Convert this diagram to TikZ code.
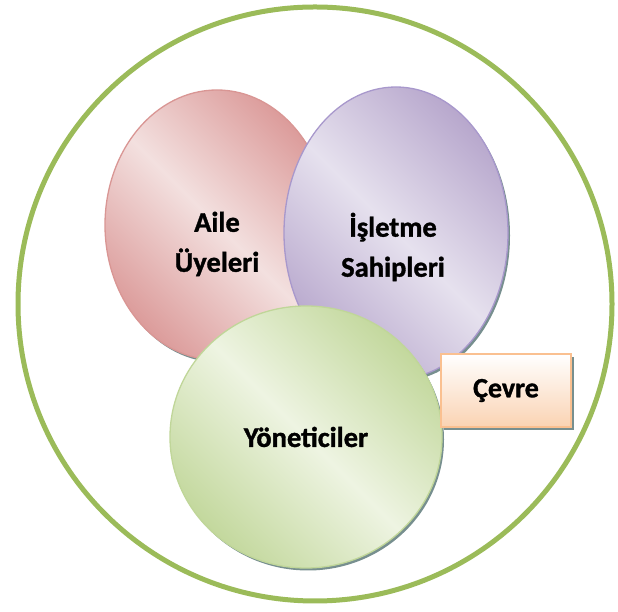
\documentclass[tikz,border=0pt]{standalone}
\usepackage{fontspec}
\setmainfont{Carlito}[BoldFont={Carlito Bold}, BoldFeatures={FakeBold=1.2}]
\usepackage{tikz}
\usetikzlibrary{
    shapes.geometric,
    positioning,
    shadows
}
\definecolor{envgreen}{HTML}{9BBB59}
\definecolor{roseline}{HTML}{D99694}
\definecolor{rosedark}{HTML}{DC9C9B}
\definecolor{roselight}{HTML}{F3E0DF}
\definecolor{lilacline}{HTML}{A898CC}
\definecolor{lilacdark}{HTML}{B8A8CD}
\definecolor{lilaclight}{HTML}{E6E1EE}
\definecolor{leafline}{HTML}{C0D699}
\definecolor{leafdark}{HTML}{C3D89D}
\definecolor{leaflight}{HTML}{EEF4E2}
\definecolor{peachline}{HTML}{FAC090}
\definecolor{peachfill}{HTML}{FAD3B3}
\definecolor{shadowteal}{HTML}{5F7B7B}

\begin{document}
\begin{tikzpicture}[
            x=1pt, y=1pt,
            envir/.style={draw=envgreen, line width=5pt, circle, inner sep=0pt,
                          minimum size=594pt},
            blob/.style={ellipse, inner sep=0pt, line width=1.3pt,
                         drop shadow={shadow xshift=2pt, shadow yshift=-2.5pt,
                                      fill=shadowteal, opacity=0.85}},
            aile/.style={blob, draw=roseline, top color=rosedark,
                         bottom color=rosedark, middle color=roselight,
                         shading angle=-45},
            isletme/.style={blob, draw=lilacline, top color=lilacdark,
                            bottom color=lilacdark, middle color=lilaclight,
                            shading angle=-45},
            yonetim/.style={blob, draw=leafline, top color=leafdark,
                            bottom color=leafdark, middle color=leaflight,
                            shading angle=-45},
            envbox/.style={draw=peachline, line width=1.3pt,
                           top color=white, bottom color=peachfill,
                           minimum width=130pt, minimum height=73pt, inner sep=0pt,
                           drop shadow={shadow xshift=3pt, shadow yshift=-3pt,
                                        fill=shadowteal, opacity=0.85}},
            txt/.style={font=\bfseries\fontsize{28.5}{40}\selectfont, align=center}
        ]
            \useasboundingbox (0,0) rectangle (618,612);

            \node[envir] (cevreyuvar) at (315,308) {};

            \node[aile, minimum width=224pt, minimum height=270pt] (aile) at (217,387) {};
            \node[isletme, minimum width=224pt, minimum height=292pt] (isletme) at (396,379) {};
            \node[yonetim, minimum width=272pt, minimum height=262pt] (yonetici) at (306,175) {};
            \node[envbox] (cevre) at (506,221.5) {};

            \node[txt] (ailetxt) at ([shift={(0,-19)}]aile.center) {Aile\\Üyeleri};
            \node[txt] (isletmetxt) at ([shift={(-3,-14)}]isletme.center) {İşletme\\Sahipleri};
            \node[txt] (yonetictxt) at (yonetici.center) {Yöneticiler};
            \node[txt, font=\bfseries\fontsize{28}{34}\selectfont] (cevretxt) at (cevre.center) {Çevre};
        \end{tikzpicture}
\end{document}
